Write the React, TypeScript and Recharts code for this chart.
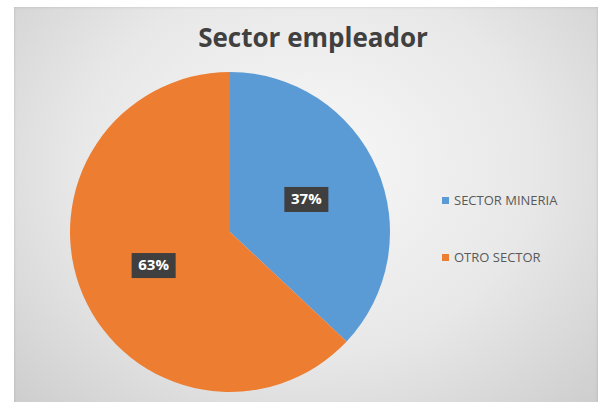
import { PieChart, Pie, Cell, Legend } from "recharts";

const sectors = ["SECTOR MINERIA", "OTRO SECTOR"];
const shares = [37, 63];
const sliceColors = ["#5B9BD5", "#ED7D31"];

const data = sectors.map((name, i) => ({ name, value: shares[i] }));

const RAD = Math.PI / 180;

function renderLabel(props: any) {
  const { cx, cy, midAngle, outerRadius, value } = props;
  const r = outerRadius * 0.52;
  const x = cx + r * Math.cos(-midAngle * RAD);
  const y = cy + r * Math.sin(-midAngle * RAD);
  return (
    <g>
      <rect x={x - 22} y={y - 12} width={44} height={25} fill="#3f3f3f" />
      <text
        x={x}
        y={y + 1}
        fill="#ffffff"
        textAnchor="middle"
        dominantBaseline="middle"
        fontFamily="'Open Sans', sans-serif"
        fontWeight={700}
        fontSize={15}
      >
        {value}%
      </text>
    </g>
  );
}

function LegendContent() {
  return (
    <div style={{ fontFamily: "'Open Sans', sans-serif", fontSize: 13, color: "#595959" }}>
      {sectors.map((s, i) => (
        <div
          key={s}
          style={{ display: "flex", alignItems: "center", height: 20, marginBottom: i === 0 ? 37 : 0 }}
        >
          <span
            style={{ width: 7, height: 7, background: sliceColors[i], display: "inline-block", marginRight: 5 }}
          />
          <span>{s}</span>
        </div>
      ))}
    </div>
  );
}

export default function App() {
  return (
    <div style={{ position: "absolute", left: 0, top: 0, width: 608, height: 402, background: "#ffffff", overflow: "hidden" }}>
      <div
        style={{
          position: "absolute",
          left: 14,
          top: 7,
          width: 584,
          height: 400,
          background: "radial-gradient(ellipse at 50% 40%, #f8f8f8 0%, #e8e8e8 55%, #cdcdcd 100%)",
          boxShadow: "inset 0 0 3px rgba(0,0,0,0.15)",
        }}
      >
        <div
          style={{
            position: "absolute",
            left: 100,
            width: 398,
            top: 12,
            textAlign: "center",
            fontFamily: "'Open Sans', sans-serif",
            fontWeight: 700,
            fontSize: 26,
            color: "#404040",
          }}
        >
          Sector empleador
        </div>
        <PieChart width={584} height={400} margin={{ top: 0, right: 0, bottom: 0, left: 0 }}>
          <Pie
            data={data}
            dataKey="value"
            nameKey="name"
            cx={216}
            cy={225}
            outerRadius={160}
            startAngle={90}
            endAngle={-270}
            stroke="none"
            label={renderLabel}
            labelLine={false}
            isAnimationActive={false}
          >
            {data.map((d, i) => (
              <Cell key={d.name} fill={sliceColors[i]} />
            ))}
          </Pie>
          <Legend content={<LegendContent />} wrapperStyle={{ left: 428, top: 183, width: 160 }} />
        </PieChart>
      </div>
    </div>
  );
}
